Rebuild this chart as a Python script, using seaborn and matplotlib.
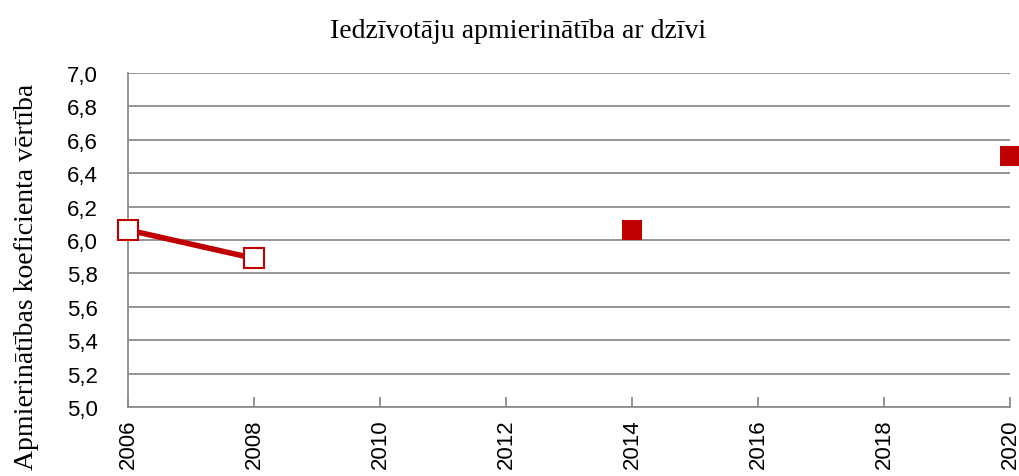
import numpy as np
import pandas as pd
import seaborn as sns
import matplotlib.pyplot as plt
from matplotlib.ticker import FuncFormatter, MultipleLocator

# survey years and values
years_old = [2006, 2008]
values_old = [6.06, 5.89]
years_new = [2014, 2020]
values_new = [6.06, 6.50]
x_ticks = [2006, 2008, 2010, 2012, 2014, 2016, 2018, 2020]

title = 'Iedzīvotāju apmierinātība ar dzīvi'
ylabel = 'Apmierinātības koeficienta vērtība'

red = '#C00000'
grid_col = '#8C8C8C'

sns.set_style('white')
plt.rcParams['font.family'] = ['Liberation Sans', 'DejaVu Sans']
plt.rcParams['text.color'] = 'black'
plt.rcParams['xtick.labelcolor'] = 'black'
plt.rcParams['ytick.labelcolor'] = 'black'

fig = plt.figure(figsize=(10.2, 4.77), dpi=100)
ax = fig.add_axes([0.1255, 0.1447, 0.8647, 0.7002])

old = pd.DataFrame({'year': years_old, 'value': values_old})
new = pd.DataFrame({'year': years_new, 'value': values_new})

sns.lineplot(data=old, x='year', y='value', ax=ax, color=red, linewidth=4,
             marker='s', markersize=14, markerfacecolor='white',
             markeredgecolor=red, markeredgewidth=1.5, clip_on=False, zorder=3)
sns.scatterplot(data=new, x='year', y='value', ax=ax, color=red, marker='s',
                s=200, edgecolor=red, linewidth=0, clip_on=False, zorder=3)

ax.set_xlim(2006, 2020)
ax.set_ylim(5.0, 7.0)
ax.yaxis.set_major_locator(MultipleLocator(0.2))
ax.yaxis.set_major_formatter(FuncFormatter(lambda v, p: f'{v:.1f}'.replace('.', ',')))
ax.set_xticks(x_ticks)
ax.set_xticklabels([str(t) for t in x_ticks], rotation=90)

ax.grid(axis='y', color=grid_col, linewidth=1.3)
ax.grid(axis='x', visible=False)
for s in ['top', 'right']:
    ax.spines[s].set_visible(False)
for s in ['left', 'bottom']:
    ax.spines[s].set_color(grid_col)
    ax.spines[s].set_linewidth(1.3)

ax.tick_params(axis='x', direction='in', length=7, width=1.3, color=grid_col,
               labelsize=16, pad=8, bottom=True)
ax.tick_params(axis='y', length=0, labelsize=16, pad=22)

ax.set_xlabel('')
ax.set_ylabel('')
fig.text(0.026, 0.42, ylabel, family='Liberation Serif', fontsize=20,
         rotation=90, ha='center', va='center')
fig.text(0.508, 0.935, title, family='Liberation Serif', fontsize=20,
         ha='center', va='center')

fig.savefig('out.png', dpi=100)
